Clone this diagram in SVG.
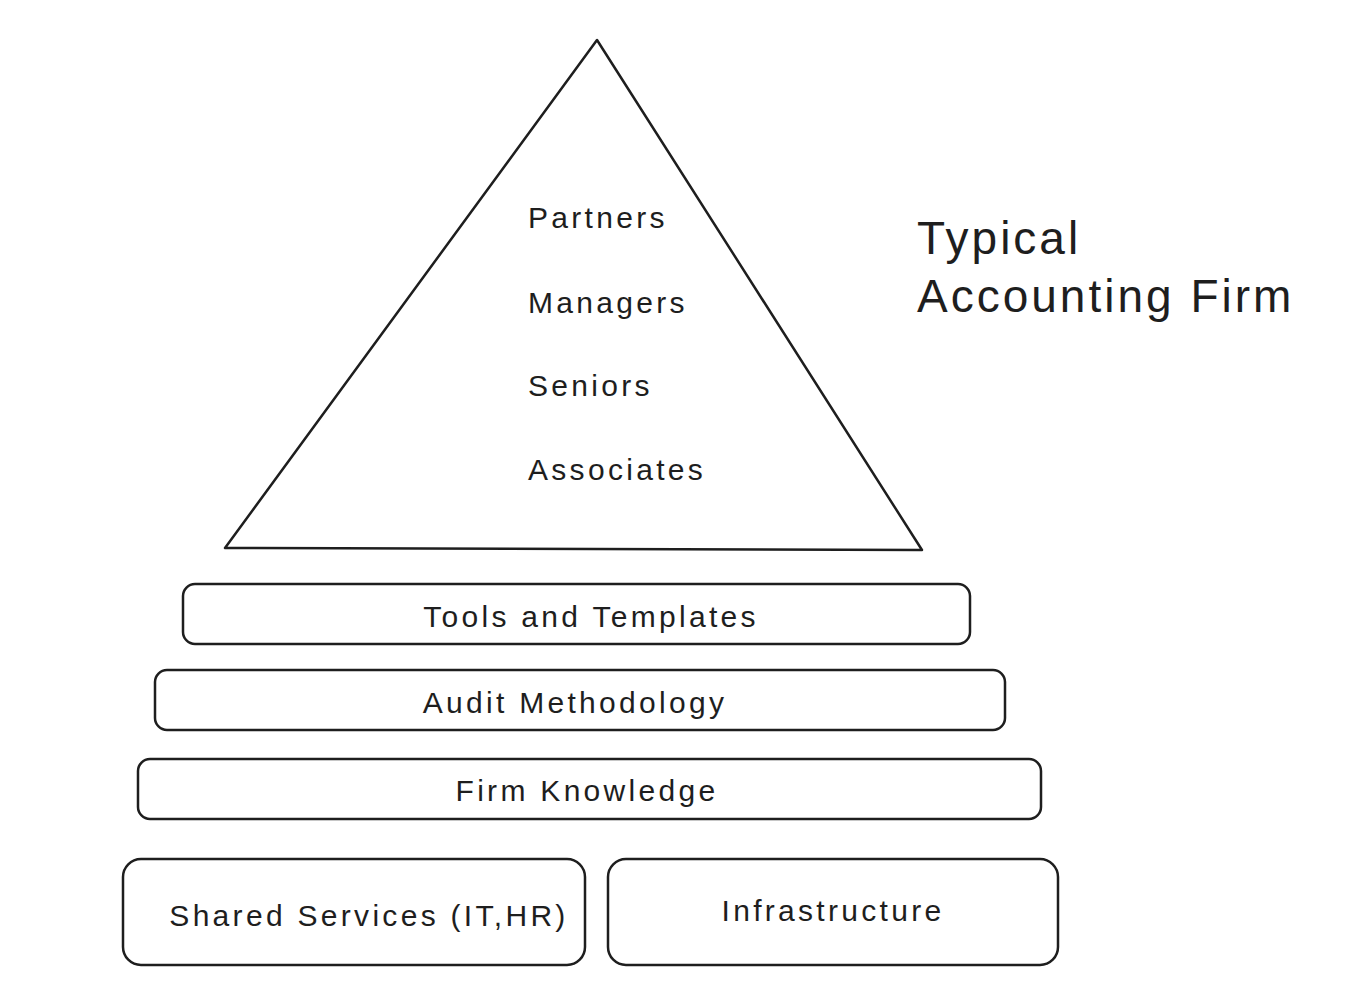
<svg xmlns="http://www.w3.org/2000/svg" width="1348" height="1000" viewBox="0 0 1348 1000">
<style>
.s{fill:none;stroke:#1e1e1e;stroke-width:2.5;stroke-linejoin:round}
.t{font-family:"Liberation Sans",sans-serif;font-size:30px;fill:#1e1e1e;letter-spacing:3.3px}
.c{text-anchor:middle}
</style>
<rect width="1348" height="1000" fill="#fff"/>
<g id="pyramid">
<polygon class="s" points="597,40 225,548 922,550"/>
<text class="t" x="528" y="228">Partners</text>
<text class="t" x="528" y="313">Managers</text>
<text class="t" x="528" y="396">Seniors</text>
<text class="t" x="528" y="480">Associates</text>
</g>
<g id="title">
<text class="t" x="917" y="254" style="font-size:46px;letter-spacing:3px">Typical</text>
<text class="t" x="917" y="312" style="font-size:46px;letter-spacing:3px">Accounting Firm</text>
</g>
<g id="tools"><rect class="s" x="183" y="584" width="787" height="60" rx="12"/><text class="t c" x="591" y="627">Tools and Templates</text></g>
<g id="audit"><rect class="s" x="155" y="670" width="850" height="60" rx="12"/><text class="t c" x="575" y="713">Audit Methodology</text></g>
<g id="knowledge"><rect class="s" x="138" y="759" width="903" height="60" rx="12"/><text class="t c" x="587" y="801">Firm Knowledge</text></g>
<g id="shared"><rect class="s" x="123" y="859" width="462" height="106" rx="18"/><text class="t c" x="369" y="926">Shared Services (IT,HR)</text></g>
<g id="infra"><rect class="s" x="608" y="859" width="450" height="106" rx="18"/><text class="t c" x="833" y="921">Infrastructure</text></g>
<g id="connectors"/>
</svg>
